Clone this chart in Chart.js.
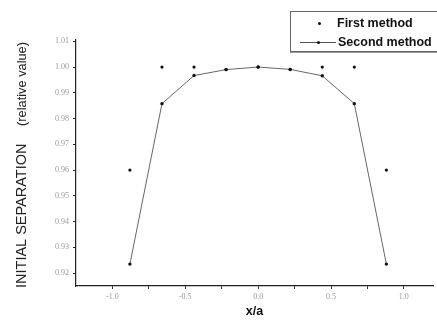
<!DOCTYPE html>
<html>
<head>
<meta charset="utf-8">
<script src="https://cdn.jsdelivr.net/npm/chart.js@4.4.0/dist/chart.umd.min.js"></script>
<style>
  html, body { margin: 0; padding: 0; background: #fff; overflow: hidden; }
  #wrap { position: relative; width: 437px; height: 323px; }
  #legend {
    position: absolute; left: 290px; top: 11px; width: 160px; height: 39px;
    border: 1px solid #666; box-shadow: 0 1px 0 #999; background: #fff;
    font: bold 12.5px "Liberation Sans", Arial, sans-serif; color: #111;
  }
  #legend .txt { position: absolute; white-space: nowrap; line-height: 15px; }
  #legend .dot { position: absolute; width: 3px; height: 3px; background: #111; border-radius: 50%; }
  #legend .ln { position: absolute; height: 1px; background: #555; }
</style>
</head>
<body>
<div id="wrap">
  <canvas id="chart" width="437" height="323"></canvas>
  <div id="legend">
    <span class="dot" style="left:27px; top:10px"></span>
    <span class="txt" style="left:46px; top:4px">First method</span>
    <span class="ln" style="left:9px; top:30px; width:36px"></span>
    <span class="dot" style="left:26px; top:29px"></span>
    <span class="txt" style="left:47px; top:23px">Second method</span>
  </div>
</div>
<script>
// data
const xPos = [-0.88, -0.66, -0.44, -0.22, 0, 0.22, 0.44, 0.66, 0.88];
const firstMethod = [0.960, 1.000, 1.000, 0.999, 1.000, 0.999, 1.000, 1.000, 0.960];
const secondMethod = [0.9235, 0.9858, 0.9967, 0.9990, 1.000, 0.9991, 0.9966, 0.9858, 0.9235];

const xTicks = [-1.0, -0.75, -0.5, -0.25, 0, 0.25, 0.5, 0.75, 1.0];
const xLabels = ['-1.0', '', '-0.5', '', '0.0', '', '0.5', '', '1.0'];
const yTicks = [0.92, 0.93, 0.94, 0.95, 0.96, 0.97, 0.98, 0.99, 1.00, 1.01];

const yTitleMain = 'INITIAL SEPARATION';
const yTitleUnit = '(relative value)';

const pts = ys => xPos.map((x, i) => ({ x: x, y: ys[i] }));

// y title: the two parts use different sizes in the original
const yTitlePlugin = {
  id: 'yTitle',
  afterDraw(c) {
    const g = c.ctx;
    const a = c.chartArea;
    g.save();
    g.translate(22, 0);
    g.rotate(-Math.PI / 2);
    g.fillStyle = '#222';
    g.textBaseline = 'middle';
    g.font = '14.5px "Liberation Sans", Arial, sans-serif';
    g.textAlign = 'left';
    g.fillText(yTitleMain, -(a.bottom + 2), 0);
    g.font = '12.8px "Liberation Sans", Arial, sans-serif';
    g.textAlign = 'right';
    g.fillText(yTitleUnit, -(a.top + 2), 0);
    g.restore();
  }
};

const ctx = document.getElementById('chart').getContext('2d');
const chart = new Chart(ctx, {
  type: 'scatter',
  data: {
    datasets: [{
      label: 'First method',
      data: pts(firstMethod),
      showLine: false,
      pointRadius: 1.6,
      pointBackgroundColor: '#111',
      pointBorderWidth: 0
    }, {
      label: 'Second method',
      data: pts(secondMethod),
      showLine: true,
      borderColor: '#666',
      borderWidth: 1,
      pointRadius: 1.7,
      pointBackgroundColor: '#111',
      pointBorderWidth: 0
    }]
  },
  options: {
    responsive: false,
    animation: false,
    layout: { padding: { top: 40, right: 0, left: 0, bottom: 0 } },
    plugins: { legend: { display: false }, tooltip: { enabled: false } },
    scales: {
      x: {
        type: 'linear', min: -1.25, max: 1.2,
        afterBuildTicks: s => { s.ticks = xTicks.map(v => ({ value: v })); },
        afterFit: s => { s.height = 37; },
        ticks: {
          autoSkip: false, maxRotation: 0, padding: 3,
          color: '#999', font: { family: 'Liberation Serif', size: 8 },
          callback: (v, i) => xLabels[i]
        },
        grid: { drawOnChartArea: false, drawTicks: true, tickLength: 3, color: '#333' },
        border: { display: true, color: '#222', width: 1.2 },
        title: {
          display: true, text: 'x/a', color: '#111', padding: { top: 0, bottom: 4 },
          font: { family: 'Liberation Sans', size: 12.5, weight: 'bold' }
        }
      },
      y: {
        type: 'linear', min: 0.915, max: 1.0105,
        afterBuildTicks: s => { s.ticks = yTicks.map(v => ({ value: v })); },
        afterFit: s => { s.width = 76; },
        ticks: {
          autoSkip: false, padding: 4,
          color: '#999', font: { family: 'Liberation Serif', size: 8 },
          callback: v => v.toFixed(2)
        },
        grid: { drawOnChartArea: false, drawTicks: true, tickLength: 3, color: '#333' },
        border: { display: true, color: '#222', width: 1.2 },
        title: { display: false }
      }
    }
  },
  plugins: [yTitlePlugin]
});
</script>
</body>
</html>
